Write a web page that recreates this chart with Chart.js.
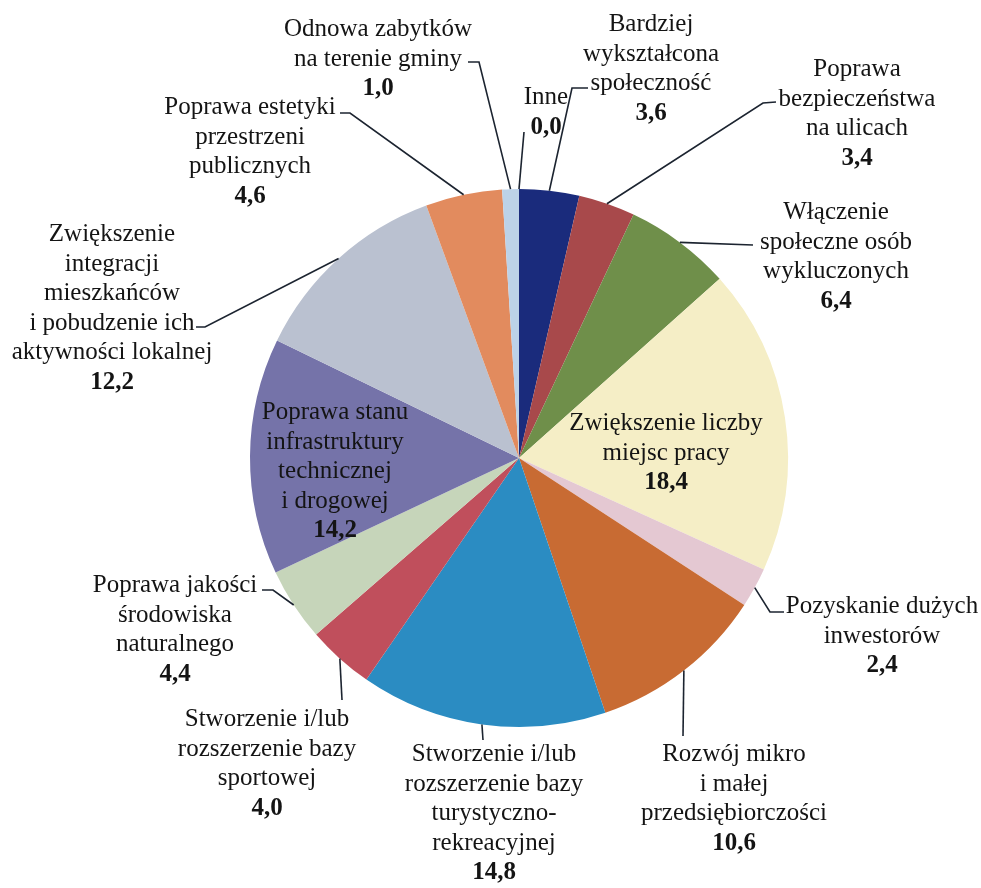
<!DOCTYPE html>
<html>
<head>
<meta charset="utf-8">
<script src="https://cdn.jsdelivr.net/npm/chart.js@4"></script>
<style>
  html, body { margin: 0; padding: 0; background: #fff; }
  #wrap { width: 981px; height: 888px; }
</style>
</head>
<body>
<div id="wrap"><canvas id="pie" width="981" height="888"></canvas></div>
<script>
// categories (clockwise from 12 o'clock), split into display lines
const CATEGORIES = [
  ['Bardziej', 'wykształcona', 'społeczność'],
  ['Poprawa', 'bezpieczeństwa', 'na ulicach'],
  ['Włączenie', 'społeczne osób', 'wykluczonych'],
  ['Zwiększenie liczby', 'miejsc pracy'],
  ['Pozyskanie dużych', 'inwestorów'],
  ['Rozwój mikro', 'i małej', 'przedsiębiorczości'],
  ['Stworzenie i/lub', 'rozszerzenie bazy', 'turystyczno-', 'rekreacyjnej'],
  ['Stworzenie i/lub', 'rozszerzenie bazy', 'sportowej'],
  ['Poprawa jakości', 'środowiska', 'naturalnego'],
  ['Poprawa stanu', 'infrastruktury', 'technicznej', 'i drogowej'],
  ['Zwiększenie', 'integracji', 'mieszkańców', 'i pobudzenie ich', 'aktywności lokalnej'],
  ['Poprawa estetyki', 'przestrzeni', 'publicznych'],
  ['Odnowa zabytków', 'na terenie gminy'],
  ['Inne']
];
const VALUES = [3.6, 3.4, 6.4, 18.4, 2.4, 10.6, 14.8, 4.0, 4.4, 14.2, 12.2, 4.6, 1.0, 0.0];
const COLORS = ['#1a2b7c', '#a8494b', '#6f8f4a', '#f5eec6', '#e4c8d2', '#c86b33', '#2b8cc2',
                '#c04f5c', '#c6d5ba', '#7573a9', '#bac1d0', '#e28b5e', '#bcd2e8', '#ffffff'];

// label block: centre x, baseline of first line
const LABEL_POS = [
  [651, 31], [857, 76], [836, 219], [666, 430], [882, 613], [734, 761], [494, 761],
  [267, 726], [175, 592], [335, 419], [112, 241], [250, 114], [378, 36], [546, 104]
];
// leader bends after the slice edge point (empty = label sits inside the slice)
const LEADERS = [
  [[572, 88], [588, 88]],
  [[763, 103], [776, 102]],
  [[753, 245]],
  [],
  [[770, 612], [784, 612]],
  [[683, 736]],
  [[483, 740]],
  [[342, 700]],
  [[273, 590], [262, 590]],
  [],
  [[205, 327], [196, 327]],
  [[350, 113], [340, 113]],
  [[479, 62], [468, 62]],
  [[524, 132]]
];

const LINE_H = 29.5;
const FONT = 'Liberation Serif, "Times New Roman", serif';

const labelPlugin = {
  id: 'pieLabels',
  afterDraw(chart) {
    const ctx = chart.ctx;
    const arcs = chart.getDatasetMeta(0).data;
    ctx.save();
    arcs.forEach((arc, i) => {
      const mid = (arc.startAngle + arc.endAngle) / 2;
      const r = arc.outerRadius;
      const pts = LEADERS[i];
      if (pts.length) {
        ctx.strokeStyle = '#1c2430';
        ctx.lineWidth = 1.6;
        ctx.beginPath();
        ctx.moveTo(arc.x + r * Math.cos(mid), arc.y + r * Math.sin(mid));
        pts.forEach(p => ctx.lineTo(p[0], p[1]));
        ctx.stroke();
      }
      const [cx, y0] = LABEL_POS[i];
      ctx.fillStyle = '#141414';
      ctx.textAlign = 'center';
      ctx.textBaseline = 'alphabetic';
      ctx.font = '25px ' + FONT;
      CATEGORIES[i].forEach((line, k) => ctx.fillText(line, cx, y0 + k * LINE_H));
      ctx.font = 'bold 25px ' + FONT;
      ctx.fillText(VALUES[i].toFixed(1).replace('.', ','), cx, y0 + CATEGORIES[i].length * LINE_H);
    });
    ctx.restore();
  }
};

new Chart(document.getElementById('pie'), {
  type: 'pie',
  data: {
    labels: CATEGORIES.map(c => c.join(' ')),
    datasets: [{
      data: VALUES,
      backgroundColor: COLORS,
      borderWidth: 0
    }]
  },
  options: {
    responsive: false,
    animation: false,
    layout: { padding: { left: 250, right: 193, top: 189, bottom: 161 } },
    plugins: { legend: { display: false }, tooltip: { enabled: false } }
  },
  plugins: [labelPlugin]
});
</script>
</body>
</html>
